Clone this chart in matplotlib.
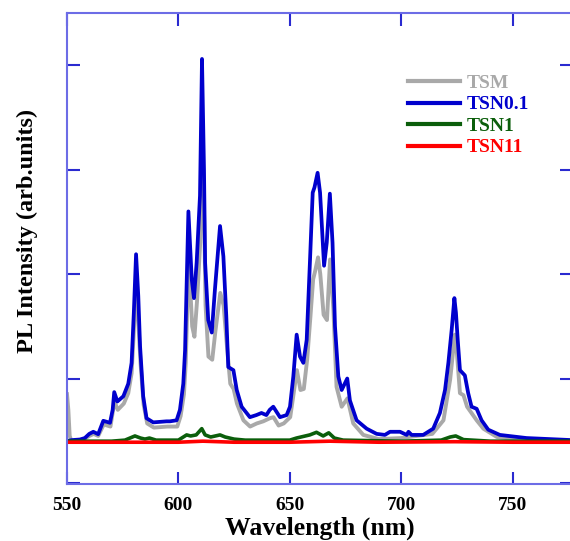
import matplotlib
matplotlib.use("Agg")
import matplotlib.pyplot as plt

plt.rcParams['font.family'] = ['Liberation Serif', 'DejaVu Serif']
plt.rcParams['font.weight'] = 'bold'

# TSN0.1 (blue)
wl_tsn01 = [550, 552, 555.8, 558, 560, 561.8, 564, 566.3, 569.3, 570.5, 571.2, 572.6,
            575.3, 577.5, 579, 580, 581, 582, 582.8, 584.2, 585.7, 588.7, 594.7, 596.2,
            599.2, 600.7, 602.2, 603, 604.5, 606, 607, 608.2, 609.7, 610.6, 611.5, 612,
            613.4, 615, 616.4, 618.7, 620.2, 621.5, 622.4, 624.7, 626.2, 628.4, 632.1,
            635, 637.3, 639.5, 641, 642.6, 645.6, 648.6, 650.1, 651.6, 653.1, 654.6,
            656.1, 657.6, 659.1, 660.3, 661.1, 662.5, 663.6, 665.4, 666.6, 668, 669.2,
            670.3, 671.8, 673.3, 675.8, 677, 680, 684.5, 689, 692.7, 695, 699.5, 702.5,
            703.3, 704.7, 709.9, 714.4, 717.4, 719.7, 721.2, 722.7, 723.9, 724.6, 725.4,
            726.4, 728.6, 730.1, 731.6, 733.9, 736.1, 739.1, 744.3, 756.3, 777]
pl_tsn01 = [0.0, 0.01, 0.016, 0.03, 0.07, 0.09, 0.067, 0.195, 0.176, 0.3, 0.47, 0.38,
            0.43, 0.55, 0.75, 1.23, 1.79, 1.39, 0.91, 0.43, 0.22, 0.18, 0.19, 0.19,
            0.2, 0.30, 0.55, 0.87, 2.2, 1.55, 1.37, 1.71, 2.35, 3.66, 2.6, 1.71,
            1.16, 1.04, 1.45, 2.06, 1.77, 1.2, 0.71, 0.68, 0.49, 0.33, 0.23,
            0.25, 0.27, 0.25, 0.30, 0.33, 0.23, 0.25, 0.33, 0.62, 1.02, 0.81,
            0.75, 0.97, 1.74, 2.38, 2.43, 2.57, 2.38, 1.68, 1.9, 2.37, 1.9,
            1.1, 0.62, 0.49, 0.6, 0.39, 0.2, 0.12, 0.07, 0.06, 0.09, 0.09, 0.06,
            0.09, 0.06, 0.06, 0.12, 0.27, 0.49, 0.75, 1.07, 1.37, 1.23, 0.97,
            0.68, 0.63, 0.46, 0.33, 0.31, 0.2, 0.11, 0.06, 0.03, 0.01]

# TSM (gray)
wl_tsm = [550, 550.6, 551.2, 552, 556, 560, 562, 564, 566.5, 569.5, 571.3, 572.8, 575.5,
          577.5, 579, 580, 581, 582, 583, 584.4, 586, 589, 595, 599.5, 601, 602.5,
          603.3, 604.6, 606.2, 607.2, 608.4, 609.8, 610.7, 611.6, 612.2, 613.5, 615.2,
          616.6, 618.8, 620.3, 621.8, 623.3, 624.8, 626.3, 629.2, 632.2, 635.2, 638.1,
          641.1, 642.7, 645, 647.3, 650.2, 651.7, 653.2, 654.8, 656.3, 657.8, 659.3,
          660.5, 661.3, 662.7, 663.7, 665.2, 666.7, 668.1, 669.6, 671, 673.3, 675.9,
          678.5, 683, 690, 700, 714, 719, 722, 724.1, 724.8, 726.4, 728, 729.6, 733.9,
          736.9, 743, 755, 777]
pl_tsm = [0.45, 0.3, 0.05, 0.0, 0.0, 0.05, 0.07, 0.05, 0.16, 0.14, 0.38, 0.3, 0.36,
          0.46, 0.65, 1.05, 1.5, 1.15, 0.75, 0.35, 0.17, 0.13, 0.14, 0.14, 0.24, 0.45,
          0.75, 1.77, 1.1, 1.0, 1.35, 1.9, 2.9, 2.1, 1.3, 0.81, 0.78,
          1.05, 1.42, 1.3, 0.91, 0.55, 0.5, 0.36, 0.2, 0.14, 0.17, 0.19,
          0.22, 0.23, 0.15, 0.17, 0.23, 0.45, 0.68, 0.49, 0.5, 0.78, 1.2,
          1.55, 1.62, 1.76, 1.6, 1.21, 1.16, 1.74, 1.26, 0.52, 0.33, 0.41,
          0.17, 0.06, 0.02, 0.03, 0.07, 0.2, 0.59, 1.02, 0.91, 0.46, 0.44, 0.33, 0.2,
          0.12, 0.04, 0.01, 0.0]

# TSN1 (green)
wl_tsn1 = [550, 570, 576, 580.5, 583, 585, 587, 590, 600, 603.7, 605.5, 608, 610.5, 612,
           614.5, 618.7, 621, 625, 630, 650, 653, 659, 662, 665, 667.5, 670, 674, 700,
           718, 722, 724.5, 728, 740, 777]
pl_tsn1 = [0.0, 0.0, 0.01, 0.05, 0.03, 0.02, 0.03, 0.01, 0.01, 0.06, 0.05, 0.06, 0.12, 0.06,
           0.04, 0.06, 0.04, 0.02, 0.01, 0.01, 0.03, 0.06, 0.085, 0.05, 0.08, 0.03, 0.01, 0.0,
           0.01, 0.04, 0.05, 0.015, 0.0, 0.0]

# TSN11 (red)
wl_tsn11 = [550, 580, 600, 611, 625, 650, 668, 690, 724, 750, 777]
pl_tsn11 = [-0.01, -0.01, -0.01, 0.0, -0.01, -0.01, 0.0, -0.01, -0.005, -0.01, -0.01]

fig = plt.figure(figsize=(5.70, 5.41), dpi=100)
ax = fig.add_axes([67 / 570, 57 / 541, 505 / 570, 471 / 541])

ax.plot(wl_tsm, pl_tsm, color='#a9a9a9', lw=2.8, label='TSM')
ax.plot(wl_tsn01, pl_tsn01, color='#0000cd', lw=2.7, label='TSN0.1')
ax.plot(wl_tsn1, pl_tsn1, color='#0b5e0b', lw=2.6, label='TSN1')
ax.plot(wl_tsn11, pl_tsn11, color='#ff0000', lw=2.6, label='TSN11')

ax.set_xlim(550, 776.7)
ax.set_ylim(-0.41, 4.1)
ax.set_xticks([550, 600, 650, 700, 750])
ax.set_yticks([-0.4, 0.6, 1.6, 2.6, 3.6])
ax.set_yticklabels([])

for s in ax.spines.values():
    s.set_color('#6c6ce6')
    s.set_linewidth(1.5)
ax.tick_params(direction='in', length=9, width=1.5, color='#2a2ad0',
               top=True, right=True, labelsize=14, pad=9)

ax.set_xlabel('Wavelength (nm)', fontsize=18.5, fontweight='bold', labelpad=2)
ax.set_ylabel('PL Intensity (arb.units)', fontsize=17.5, fontweight='bold')
ax.yaxis.set_label_coords(-0.057, 0.537)

leg = ax.legend(loc='upper left', bbox_to_anchor=(0.675, 0.87), frameon=False,
                fontsize=14, handlelength=2.7, handletextpad=0.3, labelspacing=0.2,
                borderpad=0, borderaxespad=0)
for line, text in zip(leg.get_lines(), leg.get_texts()):
    line.set_linewidth(3)
    text.set_color(line.get_color())
    text.set_fontweight('bold')

fig.savefig('out.png', dpi=100)
